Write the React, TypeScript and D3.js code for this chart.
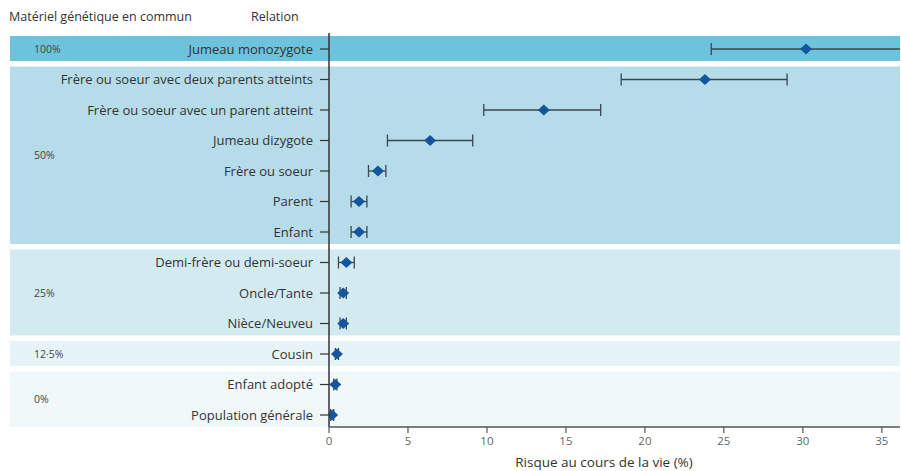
import React from "react";
import * as d3 from "d3";

const relations = [
  "Jumeau monozygote",
  "Frère ou soeur avec deux parents atteints",
  "Frère ou soeur avec un parent atteint",
  "Jumeau dizygote",
  "Frère ou soeur",
  "Parent",
  "Enfant",
  "Demi-frère ou demi-soeur",
  "Oncle/Tante",
  "Nièce/Neuveu",
  "Cousin",
  "Enfant adopté",
  "Population générale",
];
const risk = [30.2, 23.8, 13.6, 6.4, 3.1, 1.9, 1.9, 1.1, 0.9, 0.9, 0.5, 0.4, 0.2];
const lower = [24.2, 18.5, 9.8, 3.7, 2.5, 1.4, 1.4, 0.6, 0.7, 0.7, 0.4, 0.3, 0.1];
const upper = [38.0, 29.0, 17.2, 9.1, 3.6, 2.4, 2.4, 1.6, 1.1, 1.1, 0.6, 0.5, 0.3];

const groupLabels = ["100%", "50%", "25%", "12·5%", "0%"];
const groupStart = [0, 1, 7, 10, 11];
const groupEnd = [0, 6, 9, 10, 12];
const groupColors = ["#6cc3db", "#b5dce8", "#d3eaf1", "#e6f3f7", "#f1f8fa"];

const xTicks = [0, 5, 10, 15, 20, 25, 30, 35];

export default function App() {
  const W = 901, H = 471;
  const x0 = 329, x1 = 900;
  const x = d3.scaleLinear().domain([0, 36.15]).range([x0, x1]);
  const y = d3.scaleLinear().domain([0, 12]).range([49, 415]);
  const axisY = 427;
  const font = "'Open Sans', sans-serif";
  const sq = 6;
  const diamond = "M-6,0L0,-5.5L6,0L0,5.5Z";

  return (
    <svg width={W} height={H} style={{ position: "absolute", left: 0, top: 0 }} fontFamily={font}>
      <rect width={W} height={H} fill="#fff" />
      <defs>
        <clipPath id="plotclip">
          <rect x={x0} y={0} width={x1 - x0} height={H} />
        </clipPath>
      </defs>
      <text x={9} y={21} fontSize={12.5} fill="#333">Matériel génétique en commun</text>
      <text x={251} y={21} fontSize={12.5} fill="#333">Relation</text>
      {groupLabels.map((g, i) => {
        const top = y(groupStart[i]) - 13;
        const bot = y(groupEnd[i]) + 12;
        return (
          <g key={g}>
            <rect x={10} y={top} width={x1 - 10} height={bot - top} fill={groupColors[i]} />
            <text x={34} y={(top + bot) / 2 + 4} fontSize={10.5} fill="#444">{g}</text>
          </g>
        );
      })}
      {relations.map((r, i) => (
        <g key={r}>
          <text x={x0 - 16} y={y(i) + 4.5} fontSize={13} fill="#333" textAnchor="end">{r}</text>
          <line x1={x0 - 9} x2={x0} y1={y(i)} y2={y(i)} stroke="#333" strokeWidth={1.2} />
        </g>
      ))}
      <g clipPath="url(#plotclip)">
        {relations.map((r, i) => (
          <g key={r} stroke="#3b4650" strokeWidth={1.3}>
            <line x1={x(lower[i])} x2={x(upper[i])} y1={y(i)} y2={y(i)} />
            <line x1={x(lower[i])} x2={x(lower[i])} y1={y(i) - sq} y2={y(i) + sq} />
            <line x1={x(upper[i])} x2={x(upper[i])} y1={y(i) - sq} y2={y(i) + sq} />
          </g>
        ))}
        {relations.map((r, i) => (
          <path key={r} d={diamond} transform={`translate(${x(risk[i])},${y(i)})`} fill="#14569e" />
        ))}
      </g>
      <line x1={x0} x2={x0} y1={33} y2={axisY} stroke="#333" strokeWidth={1.5} />
      <line x1={x0} x2={x1} y1={axisY} y2={axisY} stroke="#555" strokeWidth={1.5} />
      {xTicks.map((t) => (
        <g key={t}>
          <line x1={x(t)} x2={x(t)} y1={axisY} y2={axisY + 6} stroke="#555" strokeWidth={1.2} />
          <text x={x(t)} y={axisY + 18} fontSize={11.5} fill="#666" textAnchor="middle">{t}</text>
        </g>
      ))}
      <text x={604} y={467} fontSize={13.5} fill="#333" textAnchor="middle">Risque au cours de la vie (%)</text>
    </svg>
  );
}
